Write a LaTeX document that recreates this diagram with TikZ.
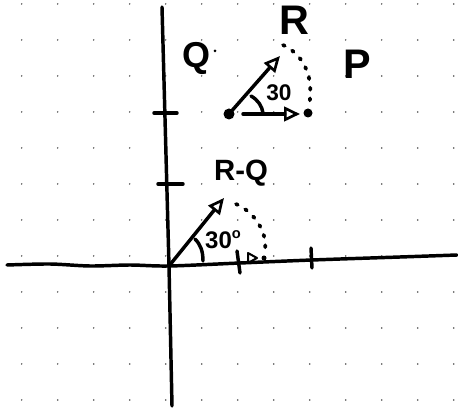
\documentclass[tikz,border=0pt]{standalone}
\usepackage{fontspec}
\setmainfont{Liberation Sans}
\usetikzlibrary{arrows.meta}
\begin{document}
\begin{tikzpicture}[x=0.75pt,y=-0.75pt,
  ink/.style={line width=2.6pt,line cap=round,line join=round},
  vec/.style={ink,-{Triangle[open,length=12pt,width=11pt,line width=2pt]}},
  dotarc/.style={line width=2.8pt,line cap=round,dash pattern=on 1.5pt off 6.5pt},
  lbl/.style={inner sep=0pt}]
\useasboundingbox (0,0) rectangle (458,410);
% grid dots
\foreach \i in {0,...,12}{\foreach \j in {0,...,11}{
  \fill[black!70] (21.7+36*\i,4+36*\j) circle (0.8);}}
% axes
\coordinate (xl) at (7,265);
\coordinate (xr) at (457,255);
\coordinate (yt) at (162,7);
\coordinate (yb) at (172,406);
\coordinate (O) at (169,266);
\draw[ink] plot[smooth] coordinates {(7,265) (50,264) (90,266) (130,265) (169,266) (240,263) (312,260) (400,257) (457,255)};
\draw[ink] (yt) -- (O) -- (yb);
% ticks
\draw[ink] (154,113) -- (177,113);
\draw[ink] (158,184) -- (183,184);
\draw[ink] (237,251) -- (240,273);
\draw[ink] (311,248) -- (312,268);
% upper figure
\coordinate (Q) at (229,114);
\coordinate (P) at (308,113);
\coordinate (Rt) at (280,56);
\coordinate (Ph) at (300,114);
\fill (Q) circle (5.5);
\fill (P) circle (4.5);
\draw[vec] (Q) -- (Rt);
\draw[vec] (243,114) -- (Ph);
\draw[dotarc] (283,45) .. controls (300,53) and (315,72) .. (309,106);
\draw[ink] (251,96) .. controls (258,100) and (262,106) .. (263,113);
\node[lbl,font=\fontsize{17}{17}\selectfont\bfseries] (a1) at (279,93) {30};
\node[lbl,font=\fontsize{31}{31}\selectfont\bfseries] (Rl) at (294,20) {R};
\node[lbl,font=\fontsize{27}{27}\selectfont\bfseries] (Ql) at (197,58) {Q};
\fill (215,51) circle (1.5);
\node[lbl,font=\fontsize{31}{31}\selectfont\bfseries] (Pl) at (357,64) {P};
% lower figure
\coordinate (Dt) at (224,198);
\draw[vec] (O) -- (Dt);
\draw[dotarc] (236,204) .. controls (255,212) and (270,235) .. (264,255);
\draw[ink] (195,239) .. controls (201,245) and (203,252) .. (203,261);
\node[lbl,font=\fontsize{18}{18}\selectfont\bfseries] (a2) at (223,240) {30\raisebox{0.8ex}{\fontsize{11}{11}\selectfont o}};
\node[lbl,font=\fontsize{22}{22}\selectfont\bfseries] (RQ) at (241,173) {R-Q};
\draw[line width=1.5pt,line join=round] (248,253) -- (257,258) -- (248,263) -- cycle;
\fill (264,258) circle (2.5);
\end{tikzpicture}
\end{document}
